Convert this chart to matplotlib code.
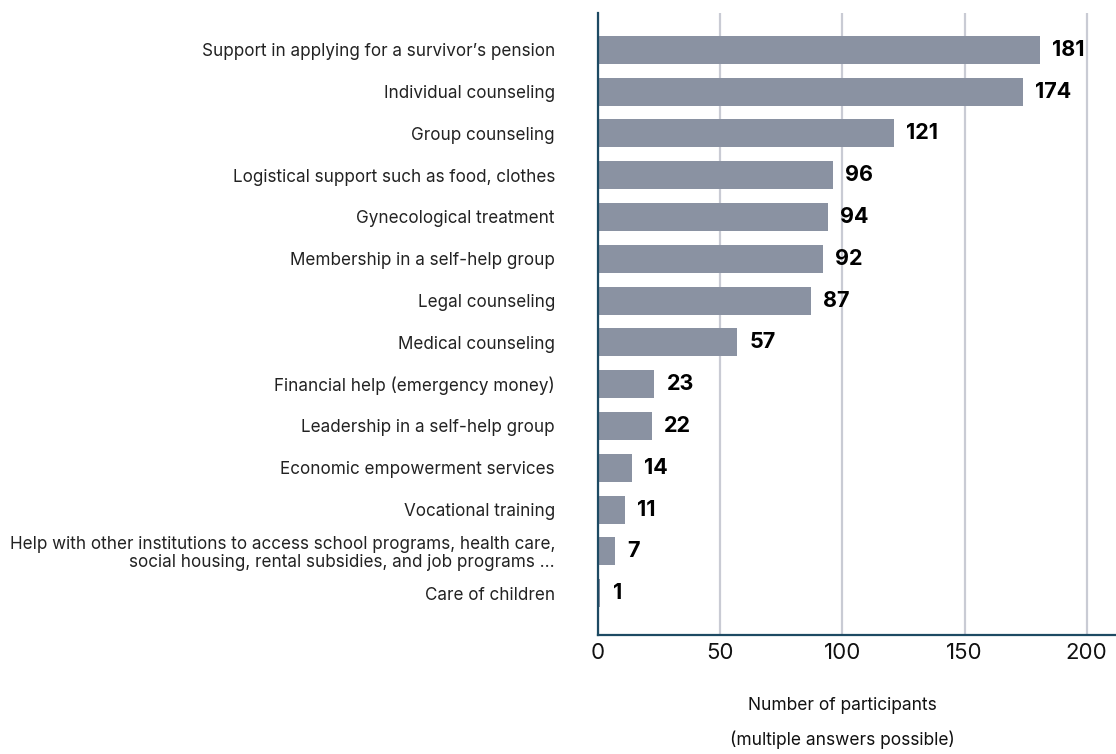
import matplotlib
matplotlib.use("Agg")
import matplotlib.pyplot as plt

categories = [
    "Support in applying for a survivor\u2019s pension",
    "Individual counseling",
    "Group counseling",
    "Logistical support such as food, clothes",
    "Gynecological treatment",
    "Membership in a self-help group",
    "Legal counseling",
    "Medical counseling",
    "Financial help (emergency money)",
    "Leadership in a self-help group",
    "Economic empowerment services",
    "Vocational training",
    "Help with other institutions to access school programs, health care,\nsocial housing, rental subsidies, and job programs ...",
    "Care of children",
]
participants = [181, 174, 121, 96, 94, 92, 87, 57, 23, 22, 14, 11, 7, 1]
x_ticks = [0, 50, 100, 150, 200]
x_label_lines = ["Number of participants", "(multiple answers possible)"]

BAR = "#8a92a2"
SPINE = "#1d4a63"
GRID = "#c9cbd4"
FONT = "Inter"

W, H = 1116, 754
fig = plt.figure(figsize=(W / 100, H / 100), dpi=100)
ax = fig.add_axes([598 / W, 1 - 635 / H, (W - 598) / W, (635 - 13) / H])

ypos = list(range(len(categories)))
ax.barh(ypos, participants, height=0.67, color=BAR, zorder=2)

for y, v in zip(ypos, participants):
    ax.text(v + 5.0, y, str(v), va="center", ha="left", fontsize=15.5,
            fontweight="bold", family=FONT, color="black", zorder=4)

ax.set_ylim(14.0, -0.88)
ax.set_xlim(0, 212)
ax.set_xticks(x_ticks)
ax.set_xticklabels([str(t) for t in x_ticks], fontsize=16, family=FONT, color="#111111")
ax.set_yticks(ypos)
ax.set_yticklabels(categories, fontsize=12.3, family=FONT, color="#222222", linespacing=1.05)
ax.tick_params(axis="y", length=0, pad=31)
ax.tick_params(axis="x", length=0, pad=6)

ax.grid(axis="x", color=GRID, linewidth=1.6, zorder=1)
ax.set_axisbelow(True)
for s in ("top", "right"):
    ax.spines[s].set_visible(False)
for s in ("left", "bottom"):
    ax.spines[s].set_color(SPINE)
    ax.spines[s].set_linewidth(1.6)
    ax.spines[s].set_zorder(3)

# two-line axis caption centred under the 0-200 range
for line, ypix in zip(x_label_lines, (705, 740)):
    ax.text(100, -(ypix - 635) / 622, line, transform=ax.get_xaxis_transform(),
            ha="center", va="center", fontsize=12.5, family=FONT, color="#111111")

fig.savefig("out.png", dpi=100)
